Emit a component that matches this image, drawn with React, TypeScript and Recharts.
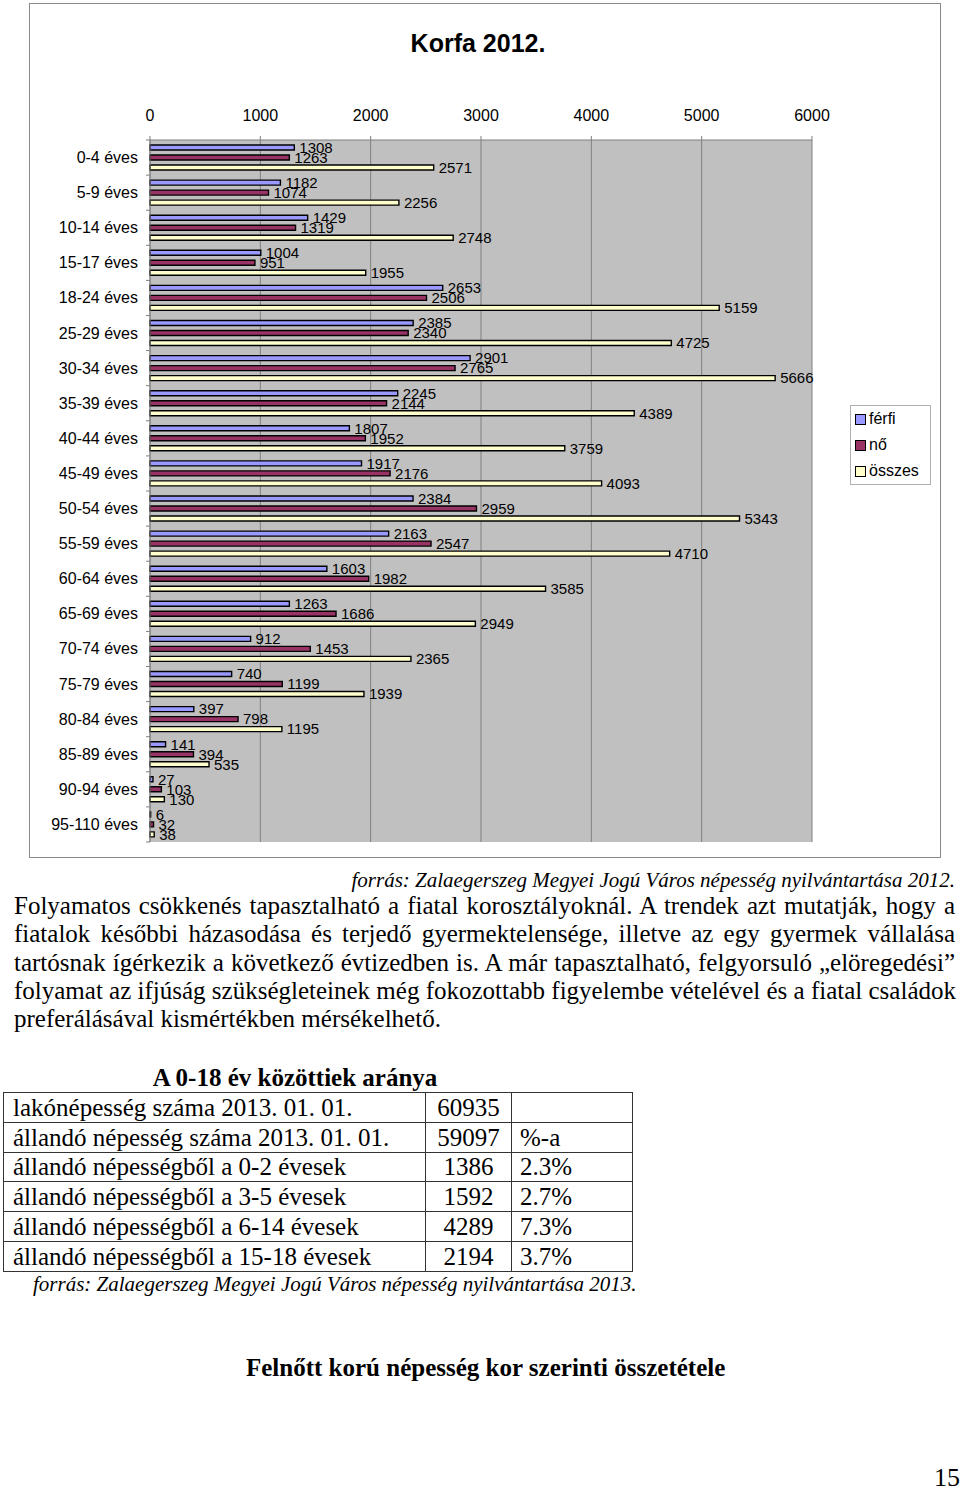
import { BarChart, Bar, XAxis, YAxis, CartesianGrid, LabelList, Legend } from "recharts";

// korfa 2012 – age groups, top to bottom
const AGE_GROUPS = [
  "0-4 éves", "5-9 éves", "10-14 éves", "15-17 éves", "18-24 éves", "25-29 éves",
  "30-34 éves", "35-39 éves", "40-44 éves", "45-49 éves", "50-54 éves", "55-59 éves",
  "60-64 éves", "65-69 éves", "70-74 éves", "75-79 éves", "80-84 éves", "85-89 éves",
  "90-94 éves", "95-110 éves",
];
const FERFI = [1308, 1182, 1429, 1004, 2653, 2385, 2901, 2245, 1807, 1917, 2384, 2163, 1603, 1263, 912, 740, 397, 141, 27, 6];
const NO = [1263, 1074, 1319, 951, 2506, 2340, 2765, 2144, 1952, 2176, 2959, 2547, 1982, 1686, 1453, 1199, 798, 394, 103, 32];
const OSSZES = [2571, 2256, 2748, 1955, 5159, 4725, 5666, 4389, 3759, 4093, 5343, 4710, 3585, 2949, 2365, 1939, 1195, 535, 130, 38];
const X_TICKS = [0, 1000, 2000, 3000, 4000, 5000, 6000];

const TABLE_LABELS = [
  "lakónépesség száma 2013. 01. 01.",
  "állandó népesség száma 2013. 01. 01.",
  "állandó népességből a 0-2 évesek",
  "állandó népességből a 3-5 évesek",
  "állandó népességből a 6-14 évesek",
  "állandó népességből a 15-18 évesek",
];
const TABLE_COUNTS = ["60935", "59097", "1386", "1592", "4289", "2194"];
const TABLE_SHARES = ["", "%-a", "2.3%", "2.7%", "7.3%", "3.7%"];

const PARAGRAPH = [
  "Folyamatos csökkenés tapasztalható a fiatal korosztályoknál. A trendek azt mutatják, hogy a",
  "fiatalok későbbi házasodása és terjedő gyermektelensége, illetve az egy gyermek vállalása",
  "tartósnak ígérkezik a következő évtizedben is. A már tapasztalható, felgyorsuló „elöregedési”",
  "folyamat az ifjúság szükségleteinek még fokozottabb figyelembe vételével és a fiatal családok",
  "preferálásával kismértékben mérsékelhető.",
];

const data = AGE_GROUPS.map((age, i) => ({
  age,
  ferfi: FERFI[i],
  no: NO[i],
  osszes: OSSZES[i],
}));

const SANS = "'Liberation Sans', Arial, sans-serif";
const SERIF = "'Liberation Serif', 'Times New Roman', serif";

const Y_AXIS_W = 121;
const PLOT_H = 702;
const BAND = PLOT_H / AGE_GROUPS.length;

const AgeTick = ({ x, y, payload, index }: any) => (
  <g>
    <line x1={Y_AXIS_W - 4} x2={Y_AXIS_W} y1={y - BAND / 2} y2={y - BAND / 2} stroke="#808080" />
    {index === AGE_GROUPS.length - 1 && (
      <line x1={Y_AXIS_W - 4} x2={Y_AXIS_W} y1={y + BAND / 2} y2={y + BAND / 2} stroke="#808080" />
    )}
    <text x={x} y={y} dy={5.5} textAnchor="end" fontSize={16} fontFamily={SANS} fill="#000">
      {payload.value}
    </text>
  </g>
);

const renderLegend = (props: any) => (
  <div
    style={{
      border: "1px solid #b0b0b0",
      background: "#fff",
      width: 81,
      boxSizing: "border-box",
      padding: "0 4px",
      fontFamily: SANS,
      fontSize: 16,
      color: "#000",
    }}
  >
    {(props.payload || []).map((e: any) => (
      <div key={e.value} style={{ display: "flex", alignItems: "center", height: 26 }}>
        <span
          style={{
            display: "inline-block",
            width: 9,
            height: 9,
            background: e.color,
            border: "1.5px solid #000",
            marginRight: 3,
          }}
        />
        {e.value}
      </div>
    ))}
  </div>
);

export default function App() {
  return (
    <div style={{ position: "absolute", left: 0, top: 0, width: 960, height: 1491, background: "#fff", color: "#000" }}>
      {/* chart frame */}
      <div
        style={{
          position: "absolute",
          left: 29,
          top: 3,
          width: 912,
          height: 855,
          border: "1.5px solid #8a8a8a",
          boxSizing: "border-box",
        }}
      />
      <div
        style={{
          position: "absolute",
          left: 378,
          top: 28,
          width: 200,
          textAlign: "center",
          fontFamily: SANS,
          fontSize: 25,
          fontWeight: "bold",
          lineHeight: "30px",
        }}
      >
        Korfa 2012.
      </div>
      <div style={{ position: "absolute", left: 29, top: 3 }}>
        <BarChart
          width={912}
          height={855}
          data={data}
          layout="vertical"
          margin={{ top: 107, right: 129, bottom: 16, left: 0 }}
          barSize={5}
          barGap={5}
        >
          <CartesianGrid horizontal={false} stroke="#808080" fill="#C0C0C0" />
          <XAxis
            type="number"
            orientation="top"
            domain={[0, 6000]}
            ticks={X_TICKS}
            height={30}
            tickSize={4}
            tickMargin={15}
            axisLine={{ stroke: "#808080" }}
            tickLine={{ stroke: "#808080" }}
            tick={{ fill: "#000", fontSize: 16, fontFamily: SANS }}
          />
          <XAxis
            xAxisId="bottom"
            type="number"
            orientation="bottom"
            domain={[0, 6000]}
            height={0}
            tick={false}
            tickLine={false}
            axisLine={{ stroke: "#808080" }}
          />
          <YAxis
            type="category"
            dataKey="age"
            width={Y_AXIS_W}
            tickSize={4}
            tickMargin={8}
            tickLine={false}
            axisLine={{ stroke: "#808080" }}
            tick={<AgeTick />}
            interval={0}
          />
          <Legend
            layout="vertical"
            align="center"
            verticalAlign="middle"
            wrapperStyle={{ left: 821, top: 402, width: 81 }}
            content={renderLegend}
          />
          <Bar dataKey="ferfi" name="férfi" fill="#9999FF" stroke="#000" strokeWidth={1.4} isAnimationActive={false}>
            <LabelList dataKey="ferfi" position="right" offset={5} fill="#000" fontSize={15} fontFamily={SANS} />
          </Bar>
          <Bar dataKey="no" name="nő" fill="#993366" stroke="#000" strokeWidth={1.4} isAnimationActive={false}>
            <LabelList dataKey="no" position="right" offset={5} fill="#000" fontSize={15} fontFamily={SANS} />
          </Bar>
          <Bar dataKey="osszes" name="összes" fill="#FFFFCC" stroke="#000" strokeWidth={1.4} isAnimationActive={false}>
            <LabelList dataKey="osszes" position="right" offset={5} fill="#000" fontSize={15} fontFamily={SANS} />
          </Bar>
        </BarChart>
      </div>

      {/* page text */}
      <div
        style={{
          position: "absolute",
          right: 5,
          top: 867,
          fontFamily: SERIF,
          fontStyle: "italic",
          fontSize: 21,
          lineHeight: "26px",
          whiteSpace: "nowrap",
        }}
      >
        forrás: Zalaegerszeg Megyei Jogú Város népesség nyilvántartása 2012.
      </div>
      <div style={{ position: "absolute", left: 14, top: 892, width: 941, fontFamily: SERIF, fontSize: 25, lineHeight: "28.3px" }}>
        {PARAGRAPH.map((line, i) => (
          <div
            key={i}
            style={{
              whiteSpace: "nowrap",
              textAlign: "justify",
              textAlignLast: i === PARAGRAPH.length - 1 ? "left" : "justify",
            }}
          >
            {line}
          </div>
        ))}
      </div>
      <div
        style={{
          position: "absolute",
          left: 95,
          top: 1064,
          width: 400,
          textAlign: "center",
          fontFamily: SERIF,
          fontWeight: "bold",
          fontSize: 25,
          lineHeight: "28px",
        }}
      >
        A 0-18 év közöttiek aránya
      </div>
      <table
        style={{
          position: "absolute",
          left: 3,
          top: 1092,
          width: 629,
          borderCollapse: "collapse",
          fontFamily: SERIF,
          fontSize: 25,
          tableLayout: "fixed",
        }}
      >
        <colgroup>
          <col style={{ width: 422 }} />
          <col style={{ width: 86 }} />
          <col style={{ width: 121 }} />
        </colgroup>
        <tbody>
          {TABLE_LABELS.map((label, i) => (
            <tr key={label} style={{ height: 29.8 }}>
              <td style={{ border: "1.5px solid #333", padding: "0 0 0 9px", lineHeight: "27px", whiteSpace: "nowrap" }}>{label}</td>
              <td style={{ border: "1.5px solid #333", padding: 0, textAlign: "center", lineHeight: "27px" }}>{TABLE_COUNTS[i]}</td>
              <td style={{ border: "1.5px solid #333", padding: "0 0 0 8px", lineHeight: "27px" }}>{TABLE_SHARES[i]}</td>
            </tr>
          ))}
        </tbody>
      </table>
      <div
        style={{
          position: "absolute",
          left: 33,
          top: 1271,
          fontFamily: SERIF,
          fontStyle: "italic",
          fontSize: 21,
          lineHeight: "26px",
          whiteSpace: "nowrap",
        }}
      >
        forrás: Zalaegerszeg Megyei Jogú Város népesség nyilvántartása 2013.
      </div>
      <div
        style={{
          position: "absolute",
          left: 246,
          top: 1353,
          fontFamily: SERIF,
          fontWeight: "bold",
          fontSize: 25,
          lineHeight: "30px",
          whiteSpace: "nowrap",
        }}
      >
        Felnőtt korú népesség kor szerinti összetétele
      </div>
      <div style={{ position: "absolute", left: 934, top: 1463, fontFamily: SERIF, fontSize: 26, lineHeight: "30px" }}>15</div>
    </div>
  );
}
